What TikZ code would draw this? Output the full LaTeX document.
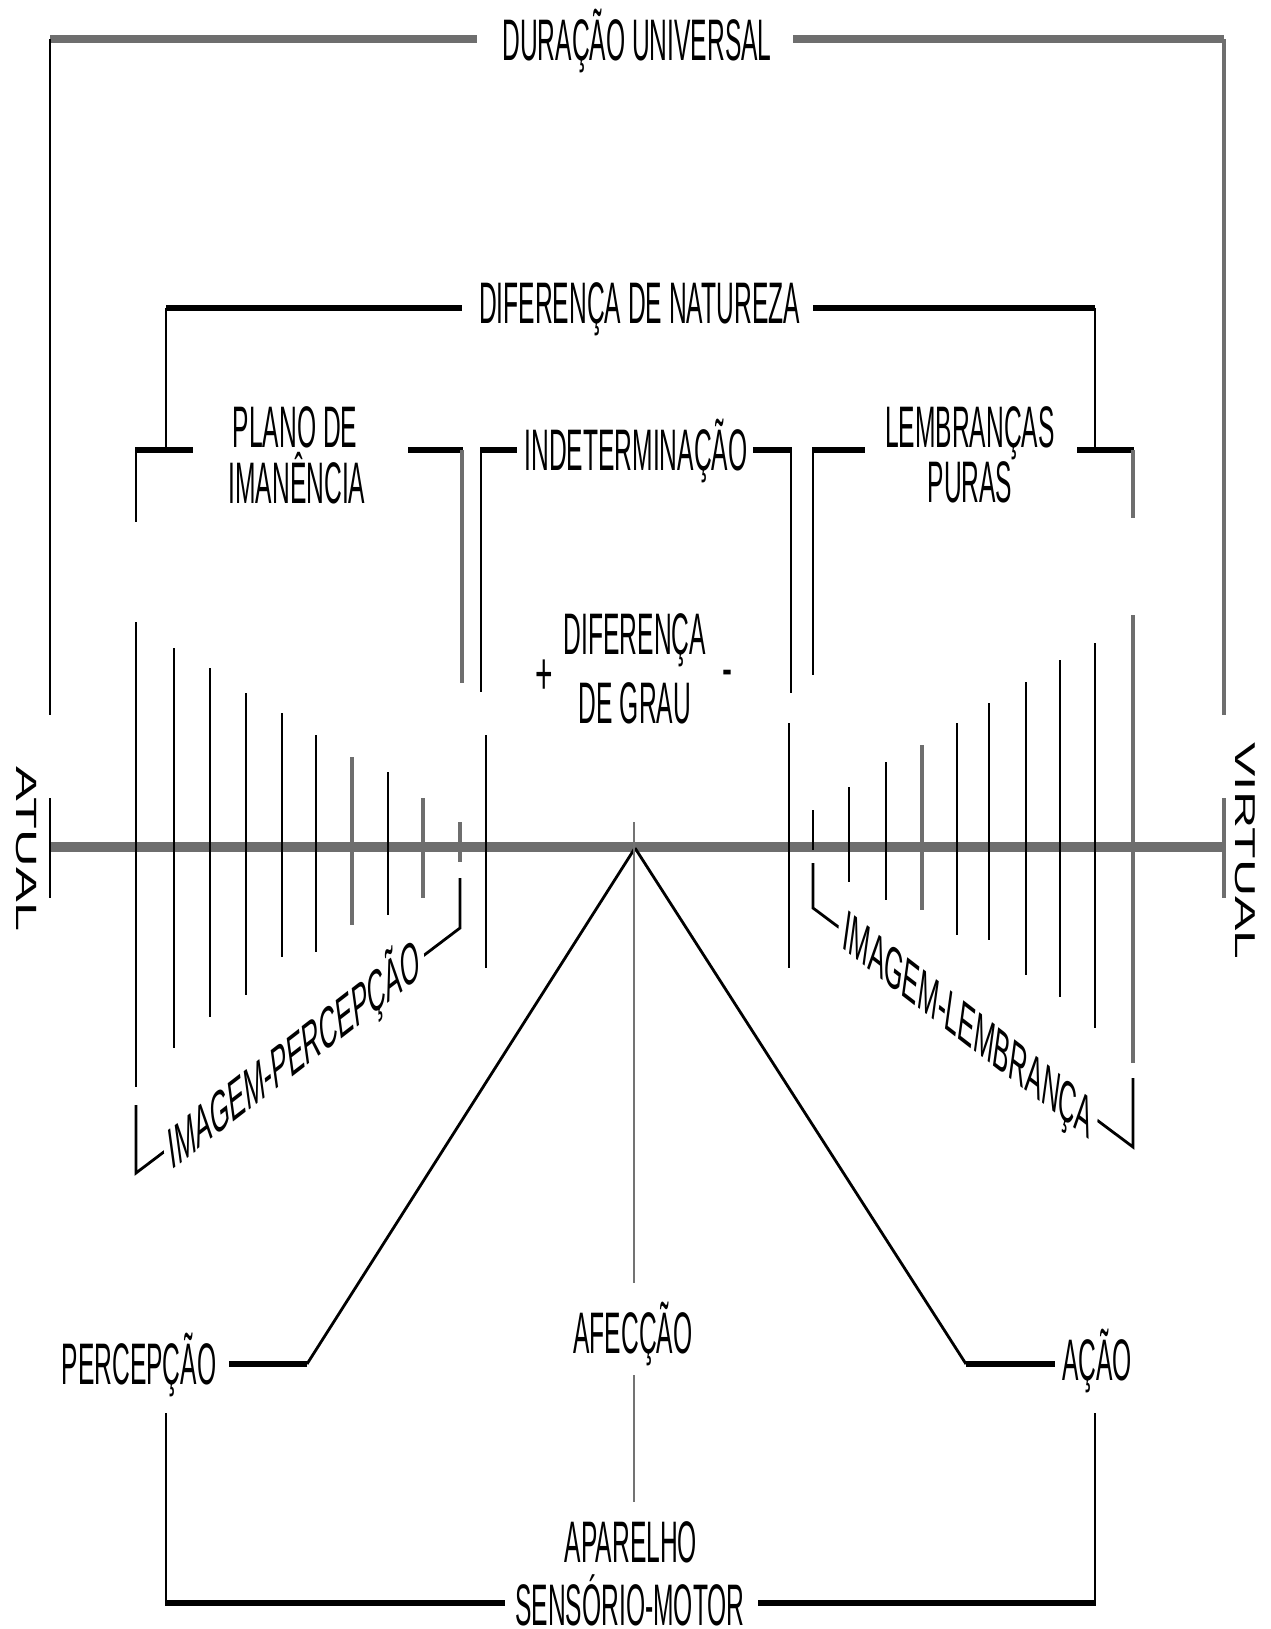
\documentclass[tikz,border=0pt]{standalone}
\usepackage{fontspec}
\usepackage{graphicx}
\setmainfont{Liberation Sans}
\definecolor{lgray}{HTML}{6E6E6E}
\tikzset{
  lbl/.style={font=\fontsize{29.3}{32}\selectfont, xscale=0.42, inner sep=0pt, text height=21pt, text depth=0pt},
  sgn/.style={font=\fontsize{30}{32}\selectfont, xscale=0.5, inner sep=0pt, anchor=base},
  rlbl/.style={font=\fontsize{29.3}{32}\selectfont, rotate=-90, inner sep=0pt},
  dlbl/.style={lbl, fill=white, inner xsep=6pt, inner ysep=3pt},
  vline/.style={line width=1.4pt, black},
  gvline/.style={line width=1.8pt, lgray},
  hbar/.style={line width=3.2pt, black},
  gbar/.style={line width=4.2pt, lgray},
  axisline/.style={line width=5pt, lgray},
  diag/.style={line width=1.4pt, black},
  cline/.style={line width=0.8pt, black!55},
}
\begin{document}
\begin{tikzpicture}[x=0.5pt,y=-0.5pt]
\fill[white] (0,0) rectangle (1270,1629);
\useasboundingbox (0,0) rectangle (1270,1629);

% ---------- axis ----------
\coordinate (axL) at (50,847);
\coordinate (axR) at (1224,847);
\draw[axisline] (axL) -- (axR);
\draw[vline] (50,798) -- (50,898);
\draw[gvline] (1224,798) -- (1224,898);
\node[rlbl] (atual) at (26.5,849) {\scalebox{0.89}[0.5]{ATUAL}};
\node[rlbl] (virtual) at (1245,851) {\scalebox{0.88}[0.49]{VIRTUAL}};

% ---------- Duracao universal ----------
\node[lbl] (dur) at (637,39) {DURAÇÃO UNIVERSAL};
\coordinate (d1) at (50,39);
\coordinate (d2) at (477,39);
\coordinate (d3) at (793,39);
\coordinate (d4) at (1224,39);
\draw[gbar] (d1) -- (d2);
\draw[gbar] (d3) -- (d4);
\draw[vline] (d1) -- (50,715);
\draw[gvline] (d4) -- (1224,715);

% ---------- Diferenca de natureza ----------
\node[lbl] (dnat) at (639.5,302.5) {DIFERENÇA DE NATUREZA};
\coordinate (n1) at (166,308);
\coordinate (n2) at (462,308);
\coordinate (n3) at (813,308);
\coordinate (n4) at (1095,308);
\draw[hbar] (n1) -- (n2);
\draw[hbar] (n3) -- (n4);
\draw[vline] (n1) -- (166,450);
\draw[vline] (n4) -- (1095,450);

% ---------- Plano de imanencia ----------
\node[lbl] (plano1) at (295,426.5) {PLANO DE};
\node[lbl] (plano2) at (297,482.5) {IMANÊNCIA};
\draw[hbar] (135.3,450) -- (193,450);
\draw[hbar] (408,450) -- (462.7,450);
\draw[vline] (136,450) -- (136,522);
\draw[gvline] (462,450) -- (462,683);

% ---------- Indeterminacao ----------
\node[lbl] (indet) at (636,449) {INDETERMINAÇÃO};
\draw[hbar] (480.3,450) -- (517,450);
\draw[hbar] (753,450) -- (791.7,450);
\draw[vline] (481,450) -- (481,692);
\draw[vline] (791,450) -- (791,693);

% ---------- Lembrancas puras ----------
\node[lbl] (lemb1) at (970,426.5) {LEMBRANÇAS};
\node[lbl] (lemb2) at (970,481) {PURAS};
\draw[hbar] (812.3,450) -- (865,450);
\draw[hbar] (1077,450) -- (1133.7,450);
\draw[vline] (813,450) -- (813,675);
\draw[gvline] (1133,450) -- (1133,518);

% ---------- Diferenca de grau ----------
\node[lbl] (dg1) at (635,633) {DIFERENÇA};
\node[lbl] (dg2) at (635,702) {DE GRAU};
\node[sgn] (plus) at (544,694) {+};
\node[sgn] (minus) at (727,688) {-};

% ---------- hatching ----------
\foreach \x/\a/\b in {136/622/1087,174/648/1048,210/668/1017,246/693/995,282/713/957,
  316/735/952,388/772/915,486/735/968,
  789/723/968,813/810/850,849/787/882,886/762/900,957/723/935,989/703/940,
  1026/682/975,1060/660/997,1095/643/1028}
  \draw[vline] (\x,\a) -- (\x,\b);
\foreach \x/\a/\b in {352/757/925,423/798/898,460/822/862,922/745/910,1133/615/1063}
  \draw[gvline] (\x,\a) -- (\x,\b);

% ---------- imagem-percepcao ----------
\coordinate (ipa) at (460,878);
\coordinate (ipb) at (460,928);
\coordinate (ipc) at (136,1173);
\coordinate (ipd) at (136,1105);
\draw[vline] (ipa) -- (ipb) -- (ipc) -- (ipd);
\node[dlbl, rotate=18] (imgp) at (294,1053.5) {IMAGEM-PERCEPÇÃO};

% ---------- imagem-lembranca ----------
\coordinate (ila) at (813,863);
\coordinate (ilb) at (813,908);
\coordinate (ilc) at (1133,1147);
\coordinate (ild) at (1133,1078);
\draw[vline] (ila) -- (ilb) -- (ilc) -- (ild);
\node[dlbl, rotate=-18] (imgl) at (968,1024) {IMAGEM-LEMBRANÇA};

% ---------- sensorimotor ----------
\coordinate (apex) at (635,848);
\coordinate (pl) at (307,1364);
\coordinate (plend) at (229,1364);
\coordinate (pr) at (966,1364);
\coordinate (prend) at (1055,1364);
\draw[diag] (apex) -- (pl);
\draw[hbar] (pl) -- (plend);
\draw[diag] (apex) -- (pr);
\draw[hbar] (pr) -- (prend);
\node[lbl] (perc) at (139,1363) {PERCEPÇÃO};
\node[lbl] (afec) at (633,1332) {AFECÇÃO};
\node[lbl] (acao) at (1097,1359) {AÇÃO};

\coordinate (ctop) at (634,822);
\coordinate (c1) at (634,1283);
\coordinate (c2) at (634,1375);
\coordinate (c3) at (634,1502);
\draw[cline] (ctop) -- (c1);
\draw[cline] (c2) -- (c3);

\node[lbl] (apar1) at (631,1541) {APARELHO};
\node[lbl] (apar2) at (630,1604) {SENSÓRIO-MOTOR};
\coordinate (b1) at (166,1413);
\coordinate (b2) at (166,1603);
\coordinate (b3) at (505,1603);
\coordinate (b4) at (758,1603);
\coordinate (b5) at (1095,1603);
\coordinate (b6) at (1095,1413);
\draw[vline] (b1) -- (b2);
\draw[hbar] (165.3,1603) -- (b3);
\draw[hbar] (b4) -- (1095.7,1603);
\draw[vline] (b5) -- (b6);
\end{tikzpicture}
\end{document}
